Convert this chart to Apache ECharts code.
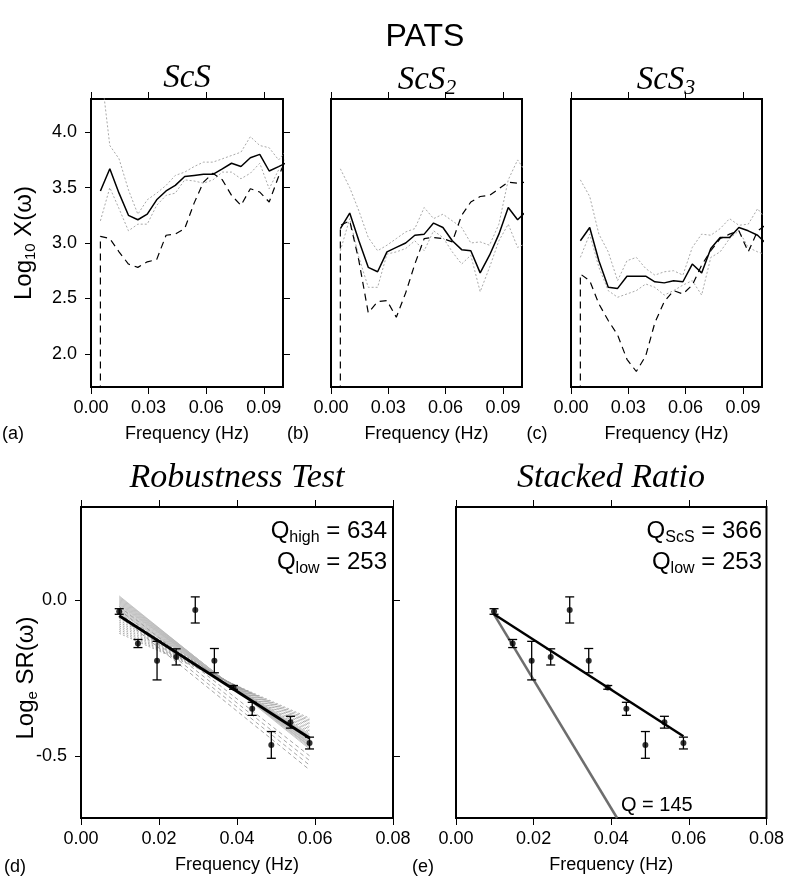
<!DOCTYPE html>
<html>
<head>
<meta charset="utf-8">
<script src="https://cdn.jsdelivr.net/npm/echarts@6/dist/echarts.min.js"></script>
<style>
    html, body { margin: 0; padding: 0; background: #fff; }
    #chart_pats { width: 787px; height: 880px; }
</style>
</head>
<body>
<div id="chart_pats"></div>
<script>
// 频率 (Hz)
var freqs = [0.0049, 0.0098, 0.0146, 0.0195, 0.0244, 0.0293, 0.0342, 0.0391, 0.0439, 0.0488, 0.0537,
             0.0586, 0.0635, 0.0684, 0.0732, 0.0781, 0.0830, 0.0879, 0.0928, 0.0977, 0.1025];

// (a) ScS
var obsA = [3.47, 3.67, 3.45, 3.25, 3.21, 3.26, 3.39, 3.47, 3.52, 3.60, 3.61, 3.62, 3.62, 3.67, 3.72, 3.69, 3.77, 3.80, 3.65, 3.69, 3.73];
var synA = [3.06, 3.04, 2.92, 2.81, 2.78, 2.83, 2.85, 3.07, 3.08, 3.13, 3.36, 3.55, 3.63, 3.57, 3.43, 3.34, 3.49, 3.46, 3.37, 3.60, 3.80];
var hiA  = [4.60, 3.88, 3.76, 3.48, 3.26, 3.39, 3.45, 3.52, 3.61, 3.64, 3.69, 3.73, 3.73, 3.76, 3.79, 3.82, 3.96, 3.88, 3.86, 3.75, 3.85];
var loA  = [3.20, 3.50, 3.31, 3.11, 3.17, 3.17, 3.34, 3.43, 3.45, 3.57, 3.56, 3.54, 3.57, 3.64, 3.64, 3.58, 3.63, 3.72, 3.49, 3.66, 3.70];

// (b) ScS2
var obsB = [3.13, 3.27, 3.02, 2.78, 2.74, 2.92, 2.96, 3.00, 3.07, 3.08, 3.18, 3.14, 3.02, 2.94, 2.93, 2.73, 2.89, 3.08, 3.32, 3.21, 3.29];
var synB = [3.16, 3.20, 2.84, 2.37, 2.47, 2.48, 2.33, 2.55, 2.81, 3.04, 3.05, 3.04, 3.01, 3.25, 3.37, 3.42, 3.43, 3.49, 3.55, 3.54, 3.55];
var hiB  = [3.67, 3.50, 3.29, 3.05, 2.93, 2.98, 3.04, 3.10, 3.13, 3.32, 3.22, 3.26, 3.20, 3.14, 3.00, 3.01, 2.98, 3.17, 3.57, 3.75, 3.63];
var loB  = [2.93, 3.22, 2.87, 2.60, 2.60, 2.90, 2.92, 2.95, 3.02, 2.93, 3.11, 3.05, 2.92, 2.81, 2.89, 2.56, 2.78, 3.02, 3.17, 2.96, 3.00];

// (c) ScS3
var obsC = [3.02, 3.14, 2.84, 2.60, 2.59, 2.70, 2.70, 2.70, 2.65, 2.64, 2.66, 2.65, 2.81, 2.73, 2.95, 3.05, 3.05, 3.14, 3.11, 3.07, 2.99];
var synC = [2.72, 2.66, 2.45, 2.30, 2.17, 1.95, 1.84, 1.98, 2.28, 2.47, 2.57, 2.54, 2.62, 2.80, 2.93, 3.04, 3.08, 3.11, 2.92, 3.11, 3.17];
var hiC  = [3.57, 3.42, 3.08, 2.92, 2.66, 2.84, 2.87, 2.77, 2.71, 2.74, 2.75, 2.71, 2.96, 3.08, 3.07, 3.13, 3.22, 3.16, 3.17, 3.31, 3.20];
var loC  = [2.87, 3.08, 2.78, 2.57, 2.51, 2.54, 2.57, 2.63, 2.60, 2.53, 2.57, 2.62, 2.66, 2.53, 2.87, 2.92, 3.04, 3.11, 2.96, 2.92, 2.89];

// 合成谱起点的竖线从坐标范围以下开始
var synFloor = 1.0;

// (d)(e) 谱比
var srFreq = [0.0098, 0.0146, 0.0195, 0.0244, 0.0293, 0.0342, 0.0391, 0.0439, 0.0488, 0.0537, 0.0586];
var srVal  = [-0.036, -0.139, -0.194, -0.182, -0.031, -0.194, -0.280, -0.349, -0.465, -0.392, -0.459];
var srErr  = [0.009, 0.013, 0.062, 0.026, 0.042, 0.039, 0.006, 0.021, 0.043, 0.019, 0.019];

// 拟合线 [起点, 终点]
var fitD    = [[0.0098, -0.050], [0.0586, -0.443]];
var fitE    = [[0.0098, -0.045], [0.0586, -0.437]];
var fitQ145 = [[0.0098, -0.045], [0.0415, -0.700]];

// robustness test 重抽样直线 (f = 0.0098 与 0.0586 处的值)
var bootStart = [0.014, 0.011, 0.008, 0.005, 0.002, -0.001, -0.004, -0.007, -0.010, -0.013, -0.016, -0.020, -0.024, -0.028, -0.032, -0.036, -0.040,
                 -0.046, -0.052, -0.058, -0.064, -0.070, -0.076, -0.082, -0.088, -0.094, -0.100, -0.106,
                 -0.020, -0.030, -0.040, -0.050];
var bootEnd   = [-0.478, -0.474, -0.470, -0.468, -0.466, -0.462, -0.460, -0.458, -0.455, -0.452, -0.449, -0.446, -0.443, -0.440, -0.437, -0.434, -0.430,
                 -0.425, -0.420, -0.415, -0.410, -0.405, -0.400, -0.396, -0.392, -0.388, -0.384, -0.379,
                 -0.500, -0.515, -0.530, -0.545];

var topXTicks = [0, 0.03, 0.06, 0.09];
var topYTicks = [2.0, 2.5, 3.0, 3.5, 4.0];
var botXTicks = [0, 0.02, 0.04, 0.06, 0.08];
var botYTicks = [-0.5, 0.0];

var SANS = 'Liberation Sans, Arial, Helvetica, sans-serif';
var SERIF = 'Liberation Serif, Times New Roman, serif';

// 简单的对象合并
var ext = function (a, b) {
    for (var k in b) a[k] = b[k];
    return a;
};

var chart = echarts.init(document.getElementById('chart_pats'));

var grids = [
    { left: 91,  top: 99,  width: 192, height: 288 },
    { left: 331, top: 99,  width: 191, height: 288 },
    { left: 571, top: 99,  width: 191, height: 288 },
    { left: 81,  top: 507, width: 312, height: 311 },
    { left: 456, top: 507, width: 312, height: 311 }
];
grids.forEach(function (g) {
    g.show = true;
    g.borderColor = '#000';
    g.borderWidth = 2;
    g.backgroundColor = 'transparent';
});

var tickStyle = { color: '#000', width: 1 };
var labelFont = { fontSize: 18, color: '#000', fontFamily: SANS };

// 坐标轴: 下方带标签, 上方只有刻度; (a)(d) 左侧标签, 右侧刻度
var xAxes = [], yAxes = [];
grids.forEach(function (g, i) {
    var isTop = i < 3;
    var ticks = isTop ? topXTicks : botXTicks;
    var max = isTop ? 0.1 : 0.08;
    xAxes.push({
        gridIndex: i, type: 'value', min: 0, max: max, position: 'bottom',
        axisLine: { show: false, onZero: false },
        axisTick: { show: true, inside: false, length: 7, customValues: ticks, lineStyle: tickStyle },
        axisLabel: ext({ customValues: ticks, margin: 12,
            formatter: function (v) { return v.toFixed(2); } }, labelFont),
        splitLine: { show: false },
        name: 'Frequency (Hz)', nameLocation: 'middle', nameGap: 38,
        nameTextStyle: { fontSize: 18, color: '#000', fontFamily: SANS }
    });
    xAxes.push({
        gridIndex: i, type: 'value', min: 0, max: max, position: 'top',
        axisLine: { show: false, onZero: false },
        axisTick: { show: true, inside: false, length: 7, customValues: ticks, lineStyle: tickStyle },
        axisLabel: { show: false },
        splitLine: { show: false }
    });

    var yticks = isTop ? topYTicks : botYTicks;
    var withLabels = (i === 0 || i === 3);
    var ymin = isTop ? 1.7 : -0.7, ymax = isTop ? 4.3 : 0.3;
    yAxes.push({
        gridIndex: i, type: 'value', position: 'left', min: ymin, max: ymax,
        axisLine: { show: false, onZero: false },
        axisTick: { show: withLabels, inside: false, length: 6, customValues: yticks, lineStyle: tickStyle },
        axisLabel: ext({ show: withLabels, customValues: yticks, margin: 14,
            formatter: function (v) { return v.toFixed(1); } }, labelFont),
        splitLine: { show: false }
    });
    yAxes.push({
        gridIndex: i, type: 'value', position: 'right', min: ymin, max: ymax,
        axisLine: { show: false, onZero: false },
        axisTick: { show: withLabels, inside: false, length: 7, customValues: yticks, lineStyle: tickStyle },
        axisLabel: { show: false },
        splitLine: { show: false }
    });
});

var pairs = function (xs, ys) {
    return ys.map(function (v, i) { return [xs[i], v]; });
};

var lineSeries = function (gi, data, style, z) {
    return {
        type: 'line', xAxisIndex: gi * 2, yAxisIndex: gi * 2,
        data: data, symbol: 'none', showSymbol: false, clip: true,
        lineStyle: style, z: z, silent: true, animation: false
    };
};

var series = [];

// 上排三个谱图
[[obsA, synA, hiA, loA], [obsB, synB, hiB, loB], [obsC, synC, hiC, loC]].forEach(function (set, gi) {
    var grayStyle = { color: '#a8a8a8', width: 1, type: [2, 2] };
    series.push(lineSeries(gi, pairs(freqs, set[2]), grayStyle, 2));
    series.push(lineSeries(gi, pairs(freqs, set[3]), grayStyle, 2));
    series.push(lineSeries(gi, [[freqs[0], synFloor]].concat(pairs(freqs, set[1])),
        { color: '#000', width: 1.2, type: [7, 5] }, 3));
    series.push(lineSeries(gi, pairs(freqs, set[0]), { color: '#000', width: 1.5 }, 4));
});

// (d) 重抽样直线
bootStart.forEach(function (s, i) {
    var st;
    if (i < 17) st = { color: '#b8b8b8', width: 0.8 };
    else if (i < 28) st = { color: '#a0a0a0', width: 0.9, type: [2, 2] };
    else st = { color: '#9a9a9a', width: 0.9, type: [4, 3] };
    series.push(lineSeries(3, [[srFreq[0], s], [srFreq[srFreq.length - 1], bootEnd[i]]], st, 2));
});

series.push(lineSeries(3, fitD, { color: '#000', width: 3 }, 4));
series.push(lineSeries(4, fitQ145, { color: '#6e6e6e', width: 2.5 }, 3));
series.push(lineSeries(4, fitE, { color: '#000', width: 2.5 }, 4));

// 误差棒
var errRender = function (params, api) {
    var x = api.value(0), y = api.value(1), e = api.value(2);
    var top = api.coord([x, y + e]);
    var bot = api.coord([x, y - e]);
    var w = 4.5;
    var st = { stroke: '#000', lineWidth: 1.3 };
    return {
        type: 'group',
        children: [
            { type: 'line', shape: { x1: top[0], y1: top[1], x2: bot[0], y2: bot[1] }, style: st },
            { type: 'line', shape: { x1: top[0] - w, y1: top[1], x2: top[0] + w, y2: top[1] }, style: st },
            { type: 'line', shape: { x1: bot[0] - w, y1: bot[1], x2: bot[0] + w, y2: bot[1] }, style: st }
        ]
    };
};

var srData = srFreq.map(function (f, i) { return [f, srVal[i], srErr[i]]; });

[3, 4].forEach(function (gi) {
    series.push({
        type: 'custom', xAxisIndex: gi * 2, yAxisIndex: gi * 2,
        renderItem: errRender, data: srData, encode: { x: 0, y: 1 },
        z: 5, silent: true, animation: false
    });
    series.push({
        type: 'scatter', xAxisIndex: gi * 2, yAxisIndex: gi * 2,
        data: srData.map(function (d) { return [d[0], d[1]]; }),
        symbol: 'circle', symbolSize: 6, itemStyle: { color: '#000' },
        z: 6, silent: true, animation: false
    });
});

// 文字 (下标用 rich text 的 padding 下移)
var subRich = function (main, sub, pad, font) {
    return {
        m: { fontSize: main, fontFamily: font, color: '#000' },
        s: { fontSize: sub, fontFamily: font, color: '#000', padding: [pad, 0, 0, 0] }
    };
};
var titleRich = {
    m: { fontSize: 33, fontFamily: SERIF, fontStyle: 'italic', color: '#000' },
    s: { fontSize: 22, fontFamily: SERIF, fontStyle: 'italic', color: '#000', padding: [16, 0, 0, 0] }
};

var txt = function (x, y, text, size, extra) {
    return {
        type: 'text', x: x, y: y, silent: true,
        style: ext({ text: text, fontSize: size, fontFamily: SANS, fill: '#000',
            align: 'center', verticalAlign: 'middle' }, extra || {})
    };
};

var graphics = [
    txt(425, 37, 'PATS', 32),
    txt(187, 78, '{m|ScS}', 33, { rich: titleRich }),
    txt(427, 80, '{m|ScS}{s|2}', 33, { rich: titleRich }),
    txt(666, 80, '{m|ScS}{s|3}', 33, { rich: titleRich }),
    txt(237, 478, 'Robustness Test', 34, { fontFamily: SERIF, fontStyle: 'italic' }),
    txt(611, 478, 'Stacked Ratio', 34, { fontFamily: SERIF, fontStyle: 'italic' }),
    txt(13, 434, '(a)', 18),
    txt(298, 434, '(b)', 18),
    txt(537, 434, '(c)', 18),
    txt(15, 867, '(d)', 18),
    txt(423, 867, '(e)', 18),
    txt(387, 531, '{m|Q}{s|high}{m| = 634}', 24, { align: 'right', rich: subRich(24, 16, 14, SANS) }),
    txt(387, 562, '{m|Q}{s|low}{m| = 253}', 24, { align: 'right', rich: subRich(24, 16, 14, SANS) }),
    txt(762, 531, '{m|Q}{s|ScS}{m| = 366}', 24, { align: 'right', rich: subRich(24, 16, 14, SANS) }),
    txt(762, 562, '{m|Q}{s|low}{m| = 253}', 24, { align: 'right', rich: subRich(24, 16, 14, SANS) }),
    txt(621, 805, 'Q = 145', 20, { align: 'left' }),
    ext(txt(24, 243, '{m|Log}{s|10}{m| X(ω)}', 24, { rich: subRich(24, 15, 14, SANS) }), { rotation: Math.PI / 2 }),
    ext(txt(26, 678, '{m|Log}{s|e}{m| SR(ω)}', 24, { rich: subRich(24, 15, 14, SANS) }), { rotation: Math.PI / 2 })
];

var option = {
    animation: false,
    backgroundColor: '#fff',
    grid: grids,
    xAxis: xAxes,
    yAxis: yAxes,
    series: series,
    graphic: { elements: graphics }
};

chart.setOption(option);
</script>
</body>
</html>
